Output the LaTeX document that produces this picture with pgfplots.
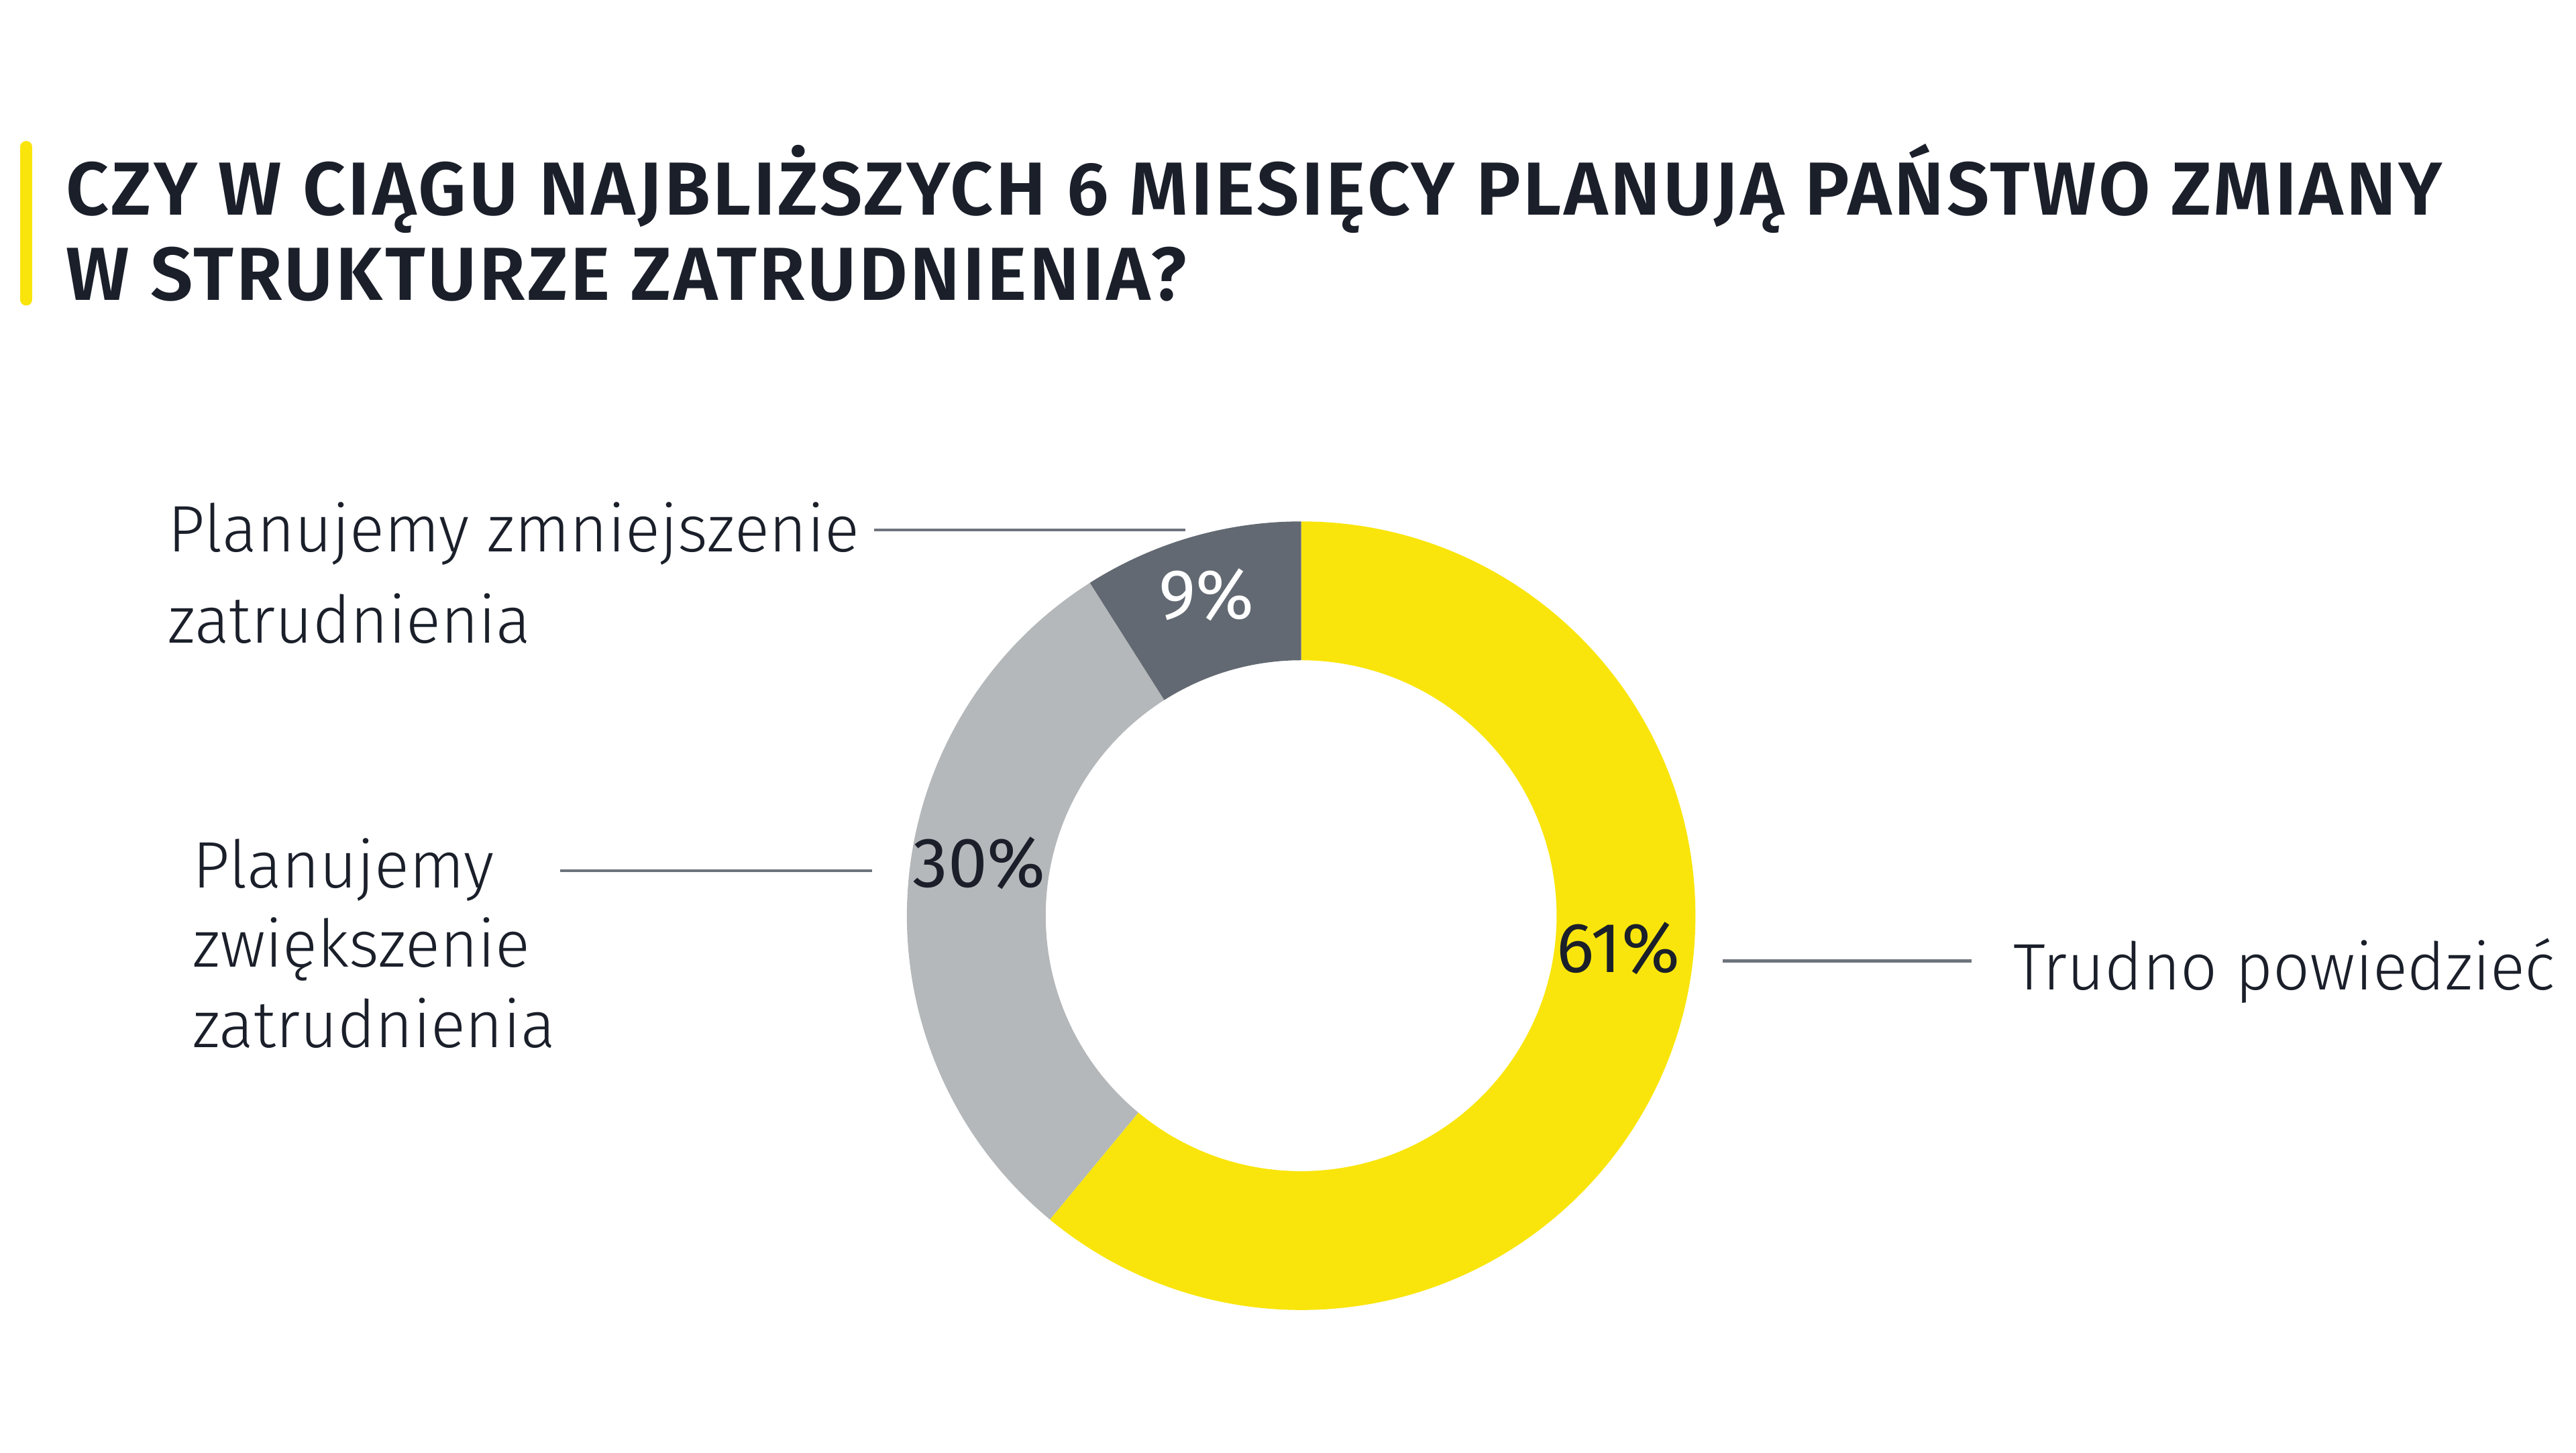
\documentclass[border=0pt]{standalone}
\usepackage{pgfplots}
\pgfplotsset{compat=1.18}
\usepackage{pgfplotstable}
\usepackage{fontspec}
\setmainfont{Fira Sans}[UprightFont=* Light, FakeStretch=0.985]
\newfontfamily\titlefont{Fira Sans}[UprightFont=* SemiBold, LetterSpace=3.2]
\newfontfamily\pctfont{Fira Sans}

\definecolor{eyyellow}{HTML}{F9E50B}
\definecolor{eylight}{HTML}{B5B8BA}
\definecolor{eydark}{HTML}{626972}
\definecolor{eytext}{HTML}{1A1F2A}
\definecolor{eyline}{HTML}{6E747D}

\pgfplotstableread{
value
61
30
9
}\donutdata

\begin{document}
\begin{tikzpicture}
\pgfplotstablegetelem{0}{value}\of\donutdata \let\vA\pgfplotsretval
\pgfplotstablegetelem{1}{value}\of\donutdata \let\vB\pgfplotsretval
\pgfplotstablegetelem{2}{value}\of\donutdata \let\vC\pgfplotsretval
\pgfmathsetmacro\aA{90-3.6*\vA}
\pgfmathsetmacro\aB{\aA-3.6*\vB}
\pgfmathsetmacro\aC{\aB-3.6*\vC}
\path[use as bounding box] (0,0) rectangle (784pt,442.2pt);
\begin{axis}[
    x=0.5pt, y=0.5pt, scale only axis,
    xmin=0, xmax=1568, ymin=0, ymax=884.4,
    hide axis, clip=false]
  % donut slices (outer r 120pt, inner r 77.75pt)
  \fill[eyyellow] (axis cs:792,327) ++(90:120pt) arc[start angle=90, end angle=\aA, radius=120pt]
    -- ++(\aA:-42.25pt) arc[start angle=\aA, end angle=90, radius=77.75pt] -- cycle;
  \fill[eylight] (axis cs:792,327) ++(\aA:120pt) arc[start angle=\aA, end angle=\aB, radius=120pt]
    -- ++(\aB:-42.25pt) arc[start angle=\aB, end angle=\aA, radius=77.75pt] -- cycle;
  \fill[eydark] (axis cs:792,327) ++(\aB:120pt) arc[start angle=\aB, end angle=\aC, radius=120pt]
    -- ++(\aC:-42.25pt) arc[start angle=\aC, end angle=\aB, radius=77.75pt] -- cycle;

  % percentages
  \node[text=white, inner sep=0pt, font=\pctfont\fontsize{21.5}{26}\selectfont] at (axis cs:734.5,522.4) {\vC\%};
  \node[text=eytext, inner sep=0pt, font=\pctfont\fontsize{21.5}{26}\selectfont] at (axis cs:596,359) {\vB\%};
  \node[text=eytext, inner sep=0pt, font=\pctfont\fontsize{21.5}{26}\selectfont] at (axis cs:985,307) {\vA\%};

  % leader lines
  \draw[eyline, line width=0.95pt] (axis cs:532,561.8) -- (axis cs:721.5,561.8);
  \draw[eyline, line width=0.95pt] (axis cs:341,354.4) -- (axis cs:531,354.4);
  \draw[eyline, line width=0.95pt] (axis cs:1048.6,299.4) -- (axis cs:1200,299.4);

  % category labels
  \begin{scope}[every node/.style={anchor=base west, inner sep=0pt, text=eytext, font=\fontsize{20}{24}\selectfont}]
    \node at (axis cs:102,548.5) {Planujemy zmniejszenie};
    \node at (axis cs:102,493.2) {zatrudnienia};
    \node at (axis cs:117,344) {Planujemy};
    \node at (axis cs:117,295.8) {zwiększenie};
    \node at (axis cs:117,246.6) {zatrudnienia};
    \node at (axis cs:1225,281.7) {Trudno powiedzieć};
  \end{scope}

  % title
  \draw[eyyellow, line width=3.6pt, line cap=round] (axis cs:16,702) -- (axis cs:16,795);
  \begin{scope}[every node/.style={anchor=base west, inner sep=0pt, text=eytext, font=\titlefont\fontsize{22.9}{27}\selectfont}]
    \node at (axis cs:40,753.7) {CZY W CIĄGU NAJBLIŻSZYCH 6 MIESIĘCY PLANUJĄ PAŃSTWO ZMIANY};
    \node at (axis cs:40,701.6) {W STRUKTURZE ZATRUDNIENIA?};
  \end{scope}
\end{axis}
\end{tikzpicture}
\end{document}
